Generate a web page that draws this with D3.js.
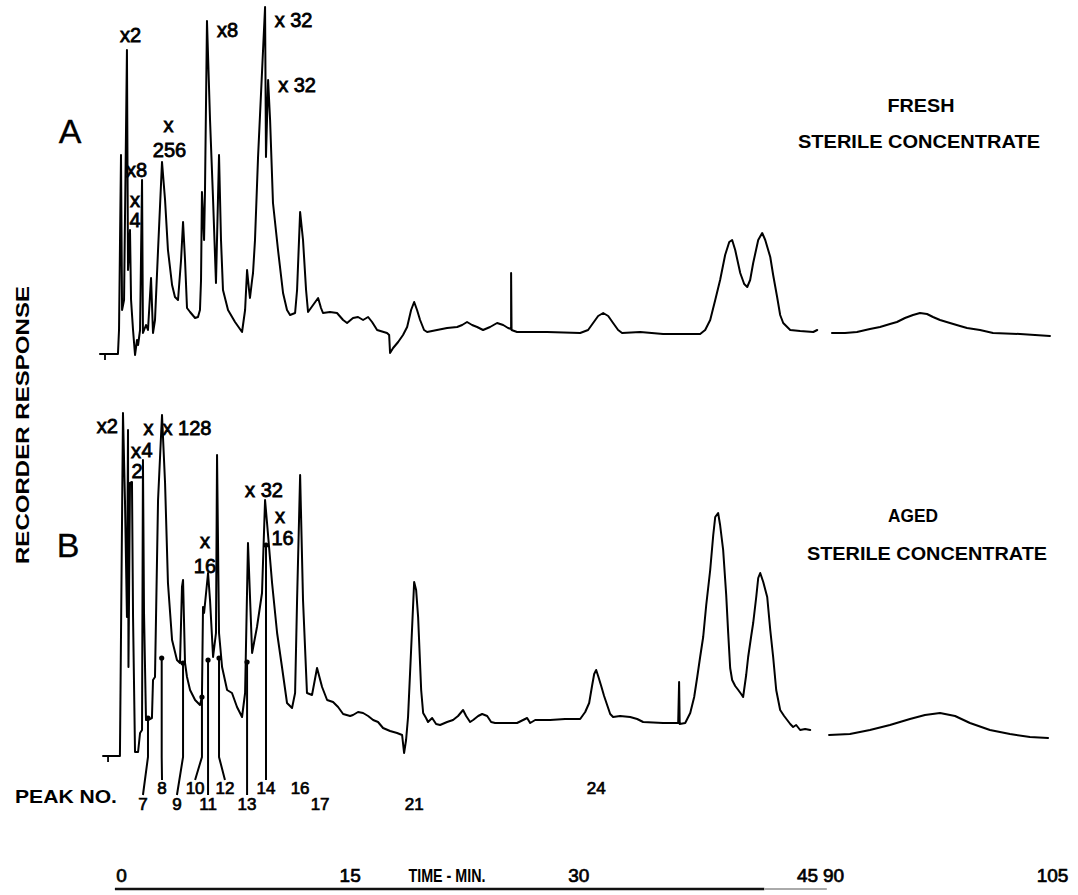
<!DOCTYPE html>
<html><head><meta charset="utf-8">
<script src="https://cdn.jsdelivr.net/npm/d3@7"></script>
<style>body{margin:0;background:#fff}svg{display:block}</style>
</head><body><svg id="c" width="1078" height="895"></svg>
<script>
// ---------- DATA (time in min, recorder response in chart units) ----------
const timeTicksA = [0, 15, 30, 45];
const timeTicksB = [90, 105];

const traceA1 = [[-1.38,-21],[-0.2,-21],[-0.13,3],[0,178],[0.07,23],[0.2,33],[0.39,283],[0.46,63],[0.52,78],[0.59,103],[0.66,33],[0.79,3],[0.92,-22],[1.05,-7],[1.12,-12],[1.25,3],[1.38,153],[1.44,0],[1.64,8],[1.77,3],[1.97,55],[2.1,0],[2.23,13],[2.43,83],[2.69,171],[2.89,133],[3.08,83],[3.35,48],[3.54,36],[3.74,33],[3.94,73],[4.07,111],[4.2,73],[4.33,25],[4.53,21],[4.86,15],[5.05,16],[5.18,23],[5.25,53],[5.31,141],[5.45,93],[5.51,143],[5.64,312],[5.84,213],[6.04,133],[6.23,50],[6.36,133],[6.43,178],[6.56,93],[6.69,43],[7.02,23],[7.48,11],[7.94,1],[8.14,23],[8.27,63],[8.4,43],[8.46,35],[8.6,53],[8.66,60],[8.79,93],[8.99,176],[9.45,326],[9.51,176],[9.65,253],[9.78,213],[9.97,130],[10.3,83],[10.63,40],[10.89,23],[11.09,18],[11.42,20],[11.55,43],[11.75,121],[11.94,93],[12.14,43],[12.27,21],[12.6,28],[12.93,35],[13.12,25],[13.25,20],[13.71,21],[14.17,20],[14.57,13],[14.83,10],[15.22,15],[15.55,16],[15.88,13],[16.21,16],[16.47,11],[16.8,3],[17.45,0],[17.59,-2],[17.65,-20],[17.85,-15],[18.18,-9],[18.5,-2],[18.77,6],[19.03,23],[19.23,31],[19.42,23],[19.62,13],[19.88,3],[20.08,1],[20.73,3],[21.39,5],[22.05,6],[22.38,8],[22.7,11],[23.03,8],[23.36,6],[23.75,3],[24.21,6],[24.67,10],[25.07,8],[25.39,5],[25.59,4],[25.59,60],[25.62,3],[25.98,1],[27.95,1],[30.12,0],[30.64,3],[30.97,10],[31.3,17],[31.63,20],[31.96,17],[32.28,10],[32.61,3],[32.87,0],[34.06,1],[35.56,-1],[37.99,-1],[38.32,3],[38.65,13],[38.98,33],[39.3,53],[39.63,78],[39.9,91],[40.09,93],[40.29,83],[40.62,60],[40.88,49],[41.08,46],[41.27,53],[41.47,70],[41.8,93],[42.06,100],[42.26,93],[42.59,76],[42.78,58],[43.04,36],[43.24,18],[43.44,10],[43.9,3],[44.55,2],[45.41,1],[45.67,3]];
const traceA2 = [[89.93,0],[90.82,0],[91.64,1],[92.53,4],[93.22,6],[93.9,9],[94.38,11],[94.93,15],[95.48,18],[95.96,20],[96.44,19],[96.85,16],[97.33,13],[98.01,10],[98.7,7],[99.18,5],[100.07,3],[100.96,0],[102.81,-1],[104.86,-3]];

const traceB1 = [[-1.18,-33],[-0.07,-33],[0.13,310],[0.26,223],[0.39,106],[0.46,293],[0.49,56],[0.59,240],[0.72,241],[0.79,106],[0.92,-29],[1.12,-29],[1.25,-10],[1.38,-7],[1.44,263],[1.51,110],[1.64,3],[1.77,3],[2.03,5],[2.1,43],[2.23,46],[2.43,223],[2.69,308],[2.89,240],[3.08,140],[3.35,83],[3.67,63],[3.87,60],[4.0,136],[4.07,143],[4.2,60],[4.33,46],[4.53,33],[4.86,23],[5.18,18],[5.31,26],[5.38,116],[5.45,110],[5.58,130],[5.71,150],[5.84,123],[6.04,66],[6.23,90],[6.3,268],[6.43,90],[6.63,56],[6.96,33],[7.28,30],[7.61,16],[7.94,6],[8.14,30],[8.33,180],[8.6,70],[8.92,96],[9.25,130],[9.45,223],[9.58,200],[9.91,140],[10.24,90],[10.56,56],[10.89,20],[11.22,15],[11.42,30],[11.55,123],[11.75,248],[11.94,123],[12.2,30],[12.53,28],[12.86,55],[13.19,36],[13.52,23],[13.91,21],[14.24,16],[14.57,9],[15.03,7],[15.22,8],[15.55,11],[15.88,10],[16.21,7],[16.54,3],[16.86,1],[17.19,-5],[17.65,-8],[18.11,-10],[18.44,-12],[18.57,-30],[18.7,-17],[18.83,6],[19.03,73],[19.23,141],[19.36,133],[19.49,106],[19.69,33],[19.82,10],[20.01,5],[20.14,1],[20.41,5],[20.67,-1],[20.93,-2],[21.39,1],[21.78,3],[22.11,7],[22.44,13],[22.64,7],[22.9,1],[23.1,3],[23.43,7],[23.69,9],[24.02,7],[24.28,1],[24.54,0],[25.98,0],[26.64,5],[26.84,0],[27.17,3],[28.15,3],[29.13,4],[30.12,4],[30.45,11],[30.71,20],[30.91,38],[31.04,49],[31.17,53],[31.3,47],[31.5,37],[31.69,27],[31.89,18],[32.09,9],[32.28,6],[32.74,7],[33.4,6],[33.86,4],[34.25,1],[35.56,0],[36.55,0],[36.61,41],[36.65,-1],[37.01,0],[37.34,10],[37.6,26],[37.8,46],[37.99,66],[38.19,86],[38.39,118],[38.65,153],[38.85,188],[38.98,206],[39.17,210],[39.3,198],[39.5,173],[39.7,128],[39.83,90],[39.96,55],[40.09,43],[40.29,37],[40.49,33],[40.68,29],[40.81,26],[41.01,48],[41.14,66],[41.34,87],[41.47,100],[41.67,126],[41.8,145],[41.93,150],[42.13,141],[42.39,126],[42.59,93],[42.78,66],[42.98,33],[43.24,13],[43.5,7],[43.7,3],[43.9,-1],[44.09,-4],[44.29,-2],[44.55,-7],[44.88,-6],[45.21,-7]];
const traceB2 = [[89.73,-12],[91.16,-11],[92.53,-7],[93.9,-2],[95.27,4],[96.3,8],[97.33,10],[98.36,7],[99.38,0],[100.75,-7],[102.12,-11],[103.49,-14],[104.73,-15]];

// peak numbering (trace B)
const peakNumbers   = [7, 8, 9, 10, 11, 12, 13, 14, 16, 17, 21, 24];
const peakLabelTime = [1.44, 2.69, 3.67, 4.86, 5.71, 6.82, 8.27, 9.51, 11.75, 13.06, 19.23, 31.17];
const peakLabelRow  = [2, 1, 2, 1, 2, 1, 2, 1, 1, 2, 2, 1];
const peakDotTime   = [1.77, 2.67, 4.07, 5.31, 5.71, 6.43, 8.27, 9.51, null, null, null, null];
const peakDotResp   = [5, 65, 60, 26, 63, 65, 61, 178, null, null, null, null];

// attenuation notes
const attenA = [["x2",0.62,291],["x8",6.99,296],["x 32",11.32,306],["x 32",11.55,241],["x",3.12,201],["256",3.18,176],["x8",1.02,156],["x",0.92,126],["4",0.92,106]];
const attenB = [["x2",-0.89,290],["x",0.98,265],["2",1.05,245],["x",1.8,288],["4",1.71,266],["x 128",4.33,288],["x 32",9.38,226],["x",10.43,200],["16",10.6,178],["x",5.51,175],["16",5.51,150]];

// ---------- CHART ----------
const svg = d3.select('#c');
const FONT = '"Liberation Sans", Arial, sans-serif';
const x1 = d3.scaleLinear().domain([0, 45]).range([121, 807]);
const x2 = d3.scaleLinear().domain([90, 105]).range([833, 1052]);
const xt = t => t < 60 ? x1(t) : x2(t);
const yA = d3.scaleLinear().domain([0, 300]).range([333, 33]);
const yB = d3.scaleLinear().domain([0, 300]).range([723, 423]);

function trace(data, ys) {
  svg.append('path').datum(data)
    .attr('d', d3.line().x(d => xt(d[0])).y(d => ys(d[1])))
    .attr('fill', 'none').attr('stroke', '#000').attr('stroke-width', 2)
    .attr('stroke-linejoin', 'round').attr('stroke-linecap', 'round');
}
trace(traceA1, yA); trace(traceA2, yA);
trace(traceB1, yB); trace(traceB2, yB);

// start markers (small stubs under the pre-injection baseline)
[[yA, -21, -1.05], [yB, -33, -0.85]].forEach(([ys, r, t]) => {
  svg.append('line').attr('x1', xt(t)).attr('x2', xt(t))
    .attr('y1', ys(r)).attr('y2', ys(r) + 6).attr('stroke', '#000').attr('stroke-width', 1.8);
});

// attenuation notes
function notes(arr, ys) {
  svg.append('g').selectAll('text').data(arr).join('text')
    .attr('x', d => xt(d[1])).attr('y', d => ys(d[2]))
    .attr('text-anchor', 'middle')
    .attr('font-family', FONT).attr('font-size', 20)
    .attr('stroke', '#000').attr('stroke-width', 0.8)
    .text(d => d[0]);
}
notes(attenA, yA); notes(attenB, yB);

// peak leaders & numbers
const rowTop = {1: 780, 2: 795};
const rowBase = {1: 794, 2: 810};
peakNumbers.forEach((p, i) => {
  const lx = xt(peakLabelTime[i]);
  if (peakDotTime[i] !== null) {
    const dx = xt(peakDotTime[i]), dy = yB(peakDotResp[i]);
    svg.append('path')
      .attr('d', d3.line()([[dx, dy], [dx, 757], [lx, rowTop[peakLabelRow[i]]]]))
      .attr('fill', 'none').attr('stroke', '#000').attr('stroke-width', 2);
    svg.append('circle').attr('cx', dx).attr('cy', dy).attr('r', 2.6).attr('fill', '#000');
  }
  svg.append('text').attr('x', lx).attr('y', rowBase[peakLabelRow[i]])
    .attr('text-anchor', 'middle').attr('font-family', FONT).attr('font-size', 17)
    .attr('stroke', '#000').attr('stroke-width', 0.7).text(p);
});

// time axis
const axG = svg.append('g').attr('transform', 'translate(0,868)')
  .attr('font-family', FONT).attr('font-size', 19);
[[x1, timeTicksA], [x2, timeTicksB]].forEach(([sc, tv]) => {
  const g = axG.append('g').call(d3.axisBottom(sc).tickValues(tv).tickSize(0).tickPadding(0).tickFormat(d3.format('d')));
  g.select('.domain').remove();
  g.attr('font-family', FONT).attr('font-size', 19);
  g.selectAll('text').attr('fill', '#000').attr('stroke', '#000').attr('stroke-width', 0.7);
});
svg.append('line').attr('x1', x1(-0.4)).attr('x2', x1(42.2)).attr('y1', 889).attr('y2', 889)
  .attr('stroke', '#111').attr('stroke-width', 2.5);
svg.append('line').attr('x1', x1(42.2)).attr('x2', x1(46.3)).attr('y1', 889).attr('y2', 889)
  .attr('stroke', '#aaa').attr('stroke-width', 2);

// labels
function label(txt, x, y, size, opts = {}) {
  const t = svg.append('text').attr('x', x).attr('y', y)
    .attr('text-anchor', opts.anchor || 'middle')
    .attr('font-family', FONT).attr('font-size', size)
    .attr('font-weight', opts.weight || 'normal')
    .attr('fill', '#000').text(txt);
  if (opts.len) t.attr('textLength', opts.len).attr('lengthAdjust', 'spacingAndGlyphs');
  if (opts.stroke) t.attr('stroke', '#000').attr('stroke-width', opts.stroke);
  if (opts.rotate) t.attr('transform', `rotate(-90,${x},${y})`);
  return t;
}
label('TIME - MIN.', 447, 882, 18, {weight: 'bold', len: 77});
label('PEAK NO.', 15, 803, 19, {anchor: 'start', weight: 'bold', len: 102});
label('A', 70, 143, 34, {stroke: 0.3});
label('B', 68, 557, 34, {stroke: 0.3});
label('FRESH', 921, 112, 19, {weight: 'bold', len: 67});
label('STERILE CONCENTRATE', 919, 148, 19, {weight: 'bold', len: 242});
label('AGED', 913, 522, 19, {weight: 'bold', len: 50});
label('STERILE CONCENTRATE', 927, 560, 19, {weight: 'bold', len: 240});
label('RECORDER RESPONSE', 29, 425, 19, {weight: 'bold', len: 278, rotate: true});
</script></body></html>
